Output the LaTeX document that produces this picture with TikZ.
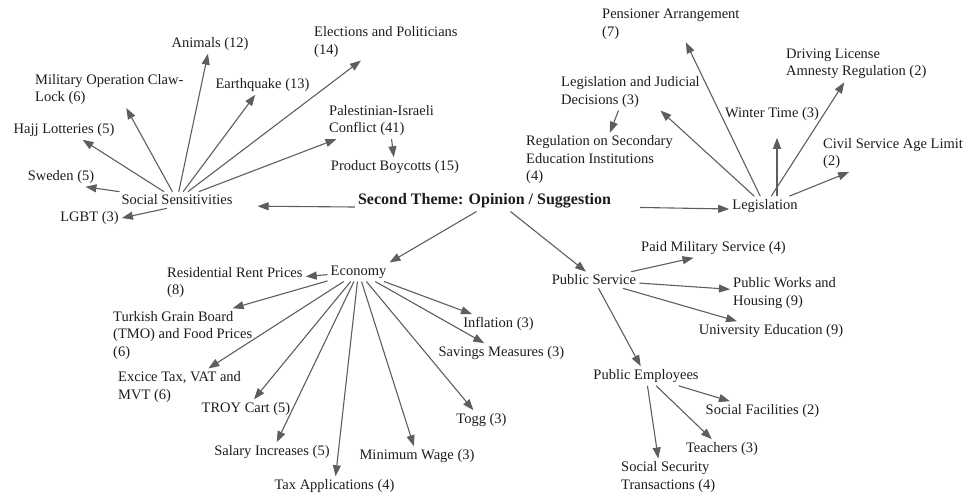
\documentclass[tikz,border=0pt]{standalone}
\usepackage{fontspec}
\setmainfont{Liberation Serif}
\usetikzlibrary{arrows.meta}
\definecolor{arrgray}{HTML}{5E5E5E}
\definecolor{txtgray}{HTML}{1C1C1C}
\begin{document}
\begin{tikzpicture}[x=1pt,y=-1pt,
    lbl/.style={font=\fontsize{14.5}{17.5}\selectfont,text=txtgray,inner sep=3pt},
    lbll/.style={lbl,anchor=west,align=left},
    arr/.style={draw=arrgray,line width=1.1pt,-{Triangle[length=11pt,width=8pt]}}]
    \useasboundingbox (0,0) rectangle (968,496);
    \node[lbl,font=\fontsize{16}{19}\selectfont\bfseries] (theme) at (484.5,201) {Second Theme: Opinion / Suggestion};
    % social sensitivities
    \node[lbl] (soc) at (177,200) {Social Sensitivities};
    \node[lbl] (animals) at (210,44) {Animals (12)};
    \node[lbll] (elect) at (311,42) {Elections and Politicians\\(14)};
    \node[lbll] (military) at (32,89.5) {Military Operation Claw-\\Lock (6)};
    \node[lbl] (quake) at (262.5,85) {Earthquake (13)};
    \node[lbll] (pales) at (326,120.5) {Palestinian-Israeli\\Conflict (41)};
    \node[lbl] (hajj) at (64,130) {Hajj Lotteries (5)};
    \node[lbl] (boycott) at (395,167) {Product Boycotts (15)};
    \node[lbl] (sweden) at (61,177) {Sweden (5)};
    \node[lbl] (lgbt) at (89.5,218) {LGBT (3)};
    % legislation
    \node[lbl] (legis) at (765,206) {Legislation};
    \node[lbll] (pension) at (599,24) {Pensioner Arrangement\\(7)};
    \node[lbll] (driving) at (783,64) {Driving License\\Amnesty Regulation (2)};
    \node[lbll] (judicial) at (558,92) {Legislation and Judicial\\Decisions (3)};
    \node[lbl] (winter) at (772,114) {Winter Time (3)};
    \node[lbll] (regul) at (523,160) {Regulation on Secondary\\Education Institutions\\(4)};
    \node[lbll] (civil) at (820,153.5) {Civil Service Age Limit\\(2)};
    % economy
    \node[lbl] (economy) at (358.5,272) {Economy};
    \node[lbll] (rent) at (164,282.5) {Residential Rent Prices\\(8)};
    \node[lbll] (grain) at (110,335.5) {Turkish Grain Board\\(TMO) and Food Prices\\(6)};
    \node[lbll] (excise) at (115,387) {Excice Tax, VAT and\\MVT (6)};
    \node[lbl] (troy) at (246,409) {TROY Cart (5)};
    \node[lbl] (inflation) at (498.5,324) {Inflation (3)};
    \node[lbl] (savings) at (501.5,353) {Savings Measures (3)};
    \node[lbl] (togg) at (481.5,420) {Togg (3)};
    \node[lbl] (salary) at (272,452) {Salary Increases (5)};
    \node[lbl] (minwage) at (417,456) {Minimum Wage (3)};
    \node[lbl] (taxapp) at (334.5,486) {Tax Applications (4)};
    % public service
    \node[lbl] (pubserv) at (594,280) {Public Service};
    \node[lbl] (paid) at (713.5,248) {Paid Military Service (4)};
    \node[lbll] (works) at (730,293) {Public Works and\\Housing (9)};
    \node[lbl] (univ) at (771,331) {University Education (9)};
    \node[lbl] (employees) at (646,376) {Public Employees};
    \node[lbl] (facilities) at (762.5,411) {Social Facilities (2)};
    \node[lbl] (teachers) at (722,449) {Teachers (3)};
    \node[lbll] (socsec) at (618,477) {Social Security\\Transactions (4)};

    \draw[arr,shorten >=22pt] ([yshift=-6pt]theme.west) -- ([yshift=-6pt]soc.east);
    \draw[arr,shorten <=26pt] ([yshift=-6pt]theme.east) -- ([yshift=-3pt]legis.west);
    \draw[arr] ([xshift=-8pt]theme.south) -- (economy.north east);
    \draw[arr] ([xshift=26pt]theme.south) -- ([xshift=-8pt]pubserv.north);

    \draw[arr] (soc) -- ([xshift=-12pt]sweden.south east);
    \draw[arr] ([xshift=-10pt]soc.south) -- (lgbt.east);
    \draw[arr] (soc) -- ([xshift=-35pt]hajj.south east);
    \draw[arr] (soc) -- ([xshift=17pt]military.south);
    \draw[arr] (soc) -- (animals);
    \draw[arr] (soc) -- (quake);
    \draw[arr] (soc) -- ([xshift=-25pt]elect.south);
    \draw[arr] (soc) -- ([xshift=-45pt]pales.south);
    \draw[arr] ([xshift=10pt]pales.south) -- (boycott);

    \draw[arr] (legis) -- ([xshift=15pt]pension.south);
    \draw[arr] (legis) -- ([xshift=30pt]judicial.south);
    \draw[arr,shorten >=14pt] ([xshift=12pt]legis.north) -- ([xshift=5pt]winter.south);
    \draw[arr] (legis) -- ([xshift=-12pt]driving.south);
    \draw[arr] (legis) -- ([xshift=-44pt]civil.south);
    \draw[arr] ([xshift=-12pt]judicial.south) -- (regul);

    \draw[arr] (economy) -- (rent);
    \draw[arr] (economy) -- ([xshift=50pt]grain.north);
    \draw[arr] (economy) -- (excise);
    \draw[arr] (economy) -- (troy);
    \draw[arr] (economy) -- (salary);
    \draw[arr] (economy) -- (taxapp);
    \draw[arr] (economy) -- (minwage);
    \draw[arr] (economy) -- (togg);
    \draw[arr] (economy) -- (savings);
    \draw[arr] (economy) -- (inflation);

    \draw[arr] (pubserv) -- ([xshift=-20pt]paid.south);
    \draw[arr] (pubserv) -- (works);
    \draw[arr] (pubserv) -- (univ);
    \draw[arr] (pubserv) -- (employees);

    \draw[arr] (employees) -- (facilities);
    \draw[arr] (employees) -- (teachers);
    \draw[arr] (employees) -- ([xshift=-10pt]socsec.north);
\end{tikzpicture}
\end{document}
